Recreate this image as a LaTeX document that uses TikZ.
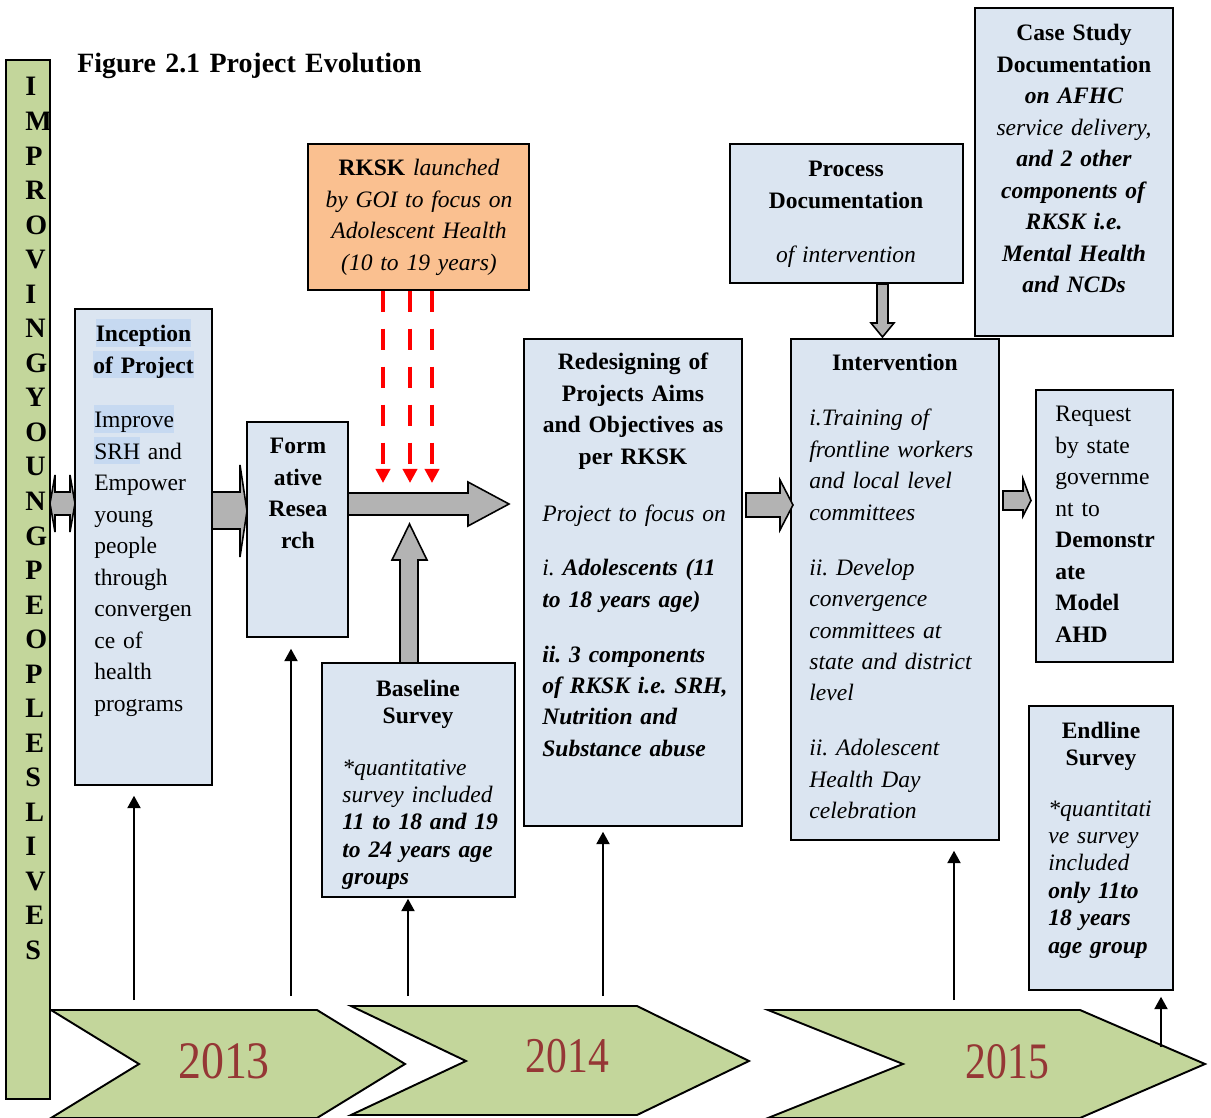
\documentclass[tikz,border=0pt]{standalone}
\usepackage{fontspec}
\setmainfont{Liberation Serif}
\usetikzlibrary{arrows.meta,fit}
\definecolor{boxblue}{HTML}{DBE5F1}
\definecolor{hlblue}{HTML}{C6D9F1}
\definecolor{rkskorange}{HTML}{FAC090}
\definecolor{oliveband}{HTML}{C3D69B}
\definecolor{arrowgray}{HTML}{B3B3B3}
\definecolor{yearred}{HTML}{953735}
\frenchspacing
\newcommand\bodyfont{\fontsize{13.4}{17.9}\selectfont}
\newcommand\surveyfont{\fontsize{13.4}{15.6}\selectfont}
\newcommand\hlword[1]{{\setlength\fboxsep{0pt}\colorbox{hlblue}{\rule[-2.8pt]{0pt}{15.8pt}#1}}}

\begin{document}
\begin{tikzpicture}[x=0.02cm,y=-0.02cm,
    box/.style={draw=black,fill=boxblue,line width=0.9pt,inner sep=0pt},
    txt/.style={font=\bodyfont,inner sep=0pt,text width=4.2cm,align=left,anchor=base west},
    ctxt/.style={font=\bodyfont,inner sep=0pt,text width=4.5cm,align=center,anchor=base},
    ttl/.style={ctxt,font=\bodyfont\bfseries},
    blockarr/.style={draw=black,fill=arrowgray,line width=0.9pt,line join=miter},
    reddash/.style={draw=red,line width=2.3pt,dash pattern=on 12pt off 9.6pt,-{Triangle[width=8pt,length=8pt]}},
    thinarr/.style={draw=black,line width=0.8pt,-{Triangle[width=7.5pt,length=7pt]}},
    chevron/.style={draw=black,fill=oliveband,line width=1.1pt,line join=miter},
    year/.style={font=\fontsize{30}{30}\selectfont,text=yearred,inner sep=0pt,anchor=base}]
  \useasboundingbox (0,0) rectangle (1211,1118);

  % timeline chevrons
  \draw[chevron] (51,1010) -- (317,1010) -- (405,1064) -- (317,1118) -- (51,1118) -- (139,1064) -- cycle;
  \draw[chevron] (351,1006) -- (637,1006) -- (749,1061) -- (637,1115) -- (351,1115) -- (466,1061) -- cycle;
  \draw[chevron] (768,1010) -- (1080,1010) -- (1205,1064) -- (1080,1118) -- (768,1118) -- (903,1064) -- cycle;
  \node[year] (y2013) at (224,1078) {\scalebox{0.87}[1.0]{2013}};
  \node[year] (y2014) at (567.5,1072) {\scalebox{0.79}[0.95]{2014}};
  \node[year] (y2015) at (1007.5,1078) {\scalebox{0.79}[0.97]{2015}};

  \node[txt,font=\fontsize{15.9}{19}\selectfont\bfseries,text width=8cm] (figTitle) at (77,73) {Figure 2.1 Project Evolution};

  % side bar
  \node[box,fill=oliveband,fit={(6,60) (50,1099)}] (ypbar) {};
  \node[txt,font=\fontsize{16}{19.66}\selectfont\bfseries,text width=0.8cm] (ypText) at (25,96)
    {I\\M\\P\\R\\O\\V\\I\\N\\G\\Y\\O\\U\\N\\G\\P\\E\\O\\P\\L\\E\\S\\L\\I\\V\\E\\S};

  % boxes
  \node[box,fit={(75,309) (212,785)}] (incep) {};
  \node[box,fit={(247,422) (348,637)}] (form) {};
  \node[box,fill=rkskorange,fit={(308,144) (529,290)}] (rksk) {};
  \node[box,fit={(322,663) (515,897)}] (base) {};
  \node[box,fit={(524,339) (742,826)}] (redes) {};
  \node[box,fit={(730,144) (963,283)}] (procdoc) {};
  \node[box,fit={(975,8) (1173,336)}] (casest) {};
  \node[box,fit={(791,339) (999,840)}] (interv) {};
  \node[box,fit={(1036,390) (1173,662)}] (request) {};
  \node[box,fit={(1029,706) (1173,990)}] (endl) {};

  \node[ttl] (incepT) at (143.5,342) {\hlword{Inception}\\\hlword{of Project}};
  \node[txt] (incepB) at (94,428) {\hlword{Improve}\\\hlword{SRH} and\\Empower\\young\\people\\through\\convergen\\ce of\\health\\programs};

  \node[ttl] (formT) at (298,454) {Form\\ative\\Resea\\rch};

  \node[ctxt] (rkskT) at (419,176) {\textbf{RKSK} \textit{launched}\\\textit{by GOI to focus on}\\\textit{Adolescent Health}\\\textit{(10 to 19 years)}};

  \node[ttl,font=\surveyfont\bfseries] (baseT) at (418,696) {Baseline\\Survey};
  \node[txt,font=\surveyfont\itshape] (baseB) at (342,775) {*quantitative\\survey included\\\textbf{11 to 18 and 19}\\\textbf{to 24 years age}\\\textbf{groups}};

  \node[ttl] (redesT) at (633,370) {Redesigning of\\Projects Aims\\and Objectives as\\per RKSK};
  \node[txt,font=\bodyfont\itshape] (redesB) at (542,521) {Project to focus on\\[13.3pt]i. \textbf{Adolescents (11}\\\textbf{to 18 years age)}\\[13.3pt]\textbf{ii. 3 components}\\\textbf{of RKSK i.e. SRH,}\\\textbf{Nutrition and}\\\textbf{Substance abuse}};

  \node[ttl] (procT) at (846,177) {Process\\Documentation};
  \node[ctxt] (procB) at (846,263) {\textit{of intervention}};

  \node[ctxt] (caseT) at (1074,41) {\textbf{Case Study}\\\textbf{Documentation}\\\textbf{\textit{on AFHC}}\\\textit{service delivery,}\\\textbf{\textit{and 2 other}}\\\textbf{\textit{components of}}\\\textbf{\textit{RKSK i.e.}}\\\textbf{\textit{Mental Health}}\\\textbf{\textit{and NCDs}}};

  \node[ttl] (intervT) at (895,371) {Intervention};
  \node[txt,font=\bodyfont\itshape] (intervB) at (809,426) {i.Training of\\frontline workers\\and local level\\committees\\[13.3pt]ii. Develop\\convergence\\committees at\\state and district\\level\\[13.3pt]ii. Adolescent\\Health Day\\celebration};

  \node[txt] (requestB) at (1055,422) {Request\\by state\\governme\\nt to\\\textbf{Demonstr}\\\textbf{ate}\\\textbf{Model}\\\textbf{AHD}};

  \node[ttl,font=\surveyfont\bfseries] (endlT) at (1101,738) {Endline\\Survey};
  \node[txt,font=\surveyfont\itshape] (endlB) at (1048,816) {*quantitati\\ve survey\\included\\\textbf{only 11to}\\\textbf{18 years}\\\textbf{age group}};

  % block arrows
  \draw[blockarr] (50,503.5) -- (55,475) -- (55,492) -- (70,492) -- (70,475) -- (75,503.5) -- (70,532) -- (70,515) -- (55,515) -- (55,532) -- cycle;
  \draw[blockarr] (212,492) -- (240,492) -- (240,465) -- (247,511) -- (240,557) -- (240,529) -- (212,529) -- cycle;
  \draw[blockarr] (348,493) -- (468,493) -- (468,482) -- (509,504) -- (468,526) -- (468,515) -- (348,515) -- cycle;
  \draw[blockarr] (400,663) -- (400,560) -- (392,560) -- (409.5,524) -- (427,560) -- (418,560) -- (418,663) -- cycle;
  \draw[blockarr] (746,493) -- (780,493) -- (780,480) -- (793,505) -- (780,530) -- (780,517) -- (746,517) -- cycle;
  \draw[blockarr] (877,284) -- (888,284) -- (888,323) -- (894,323) -- (882.5,337) -- (871,323) -- (877,323) -- cycle;
  \draw[blockarr] (1003,491) -- (1023,491) -- (1023,479) -- (1031,500.5) -- (1023,516) -- (1023,510) -- (1003,510) -- cycle;

  % RKSK influence
  \foreach \rx [count=\i] in {383,410,432} {
    \coordinate (rkskTip\i) at (\rx,483);
    \draw[reddash] (rksk.south -| rkskTip\i) -- (rkskTip\i);
  }

  % links from the timeline
  \coordinate (t1) at (134,1000);
  \coordinate (t2) at (291,996);
  \coordinate (t3) at (408,996);
  \coordinate (t4) at (603,996);
  \coordinate (t5) at (954,1000);
  \coordinate (t6) at (1161,1047);
  \draw[thinarr,shorten >=0.2cm] (t1) -- (t1 |- incep.south);
  \draw[thinarr,shorten >=0.22cm] (t2) -- (t2 |- form.south);
  \draw[thinarr,shorten >=0.02cm] (t3) -- (t3 |- base.south);
  \draw[thinarr,shorten >=0.1cm] (t4) -- (t4 |- redes.south);
  \draw[thinarr,shorten >=0.2cm] (t5) -- (t5 |- interv.south);
  \draw[thinarr,shorten >=0.12cm] (t6) -- (t6 |- endl.south);
\end{tikzpicture}
\end{document}
